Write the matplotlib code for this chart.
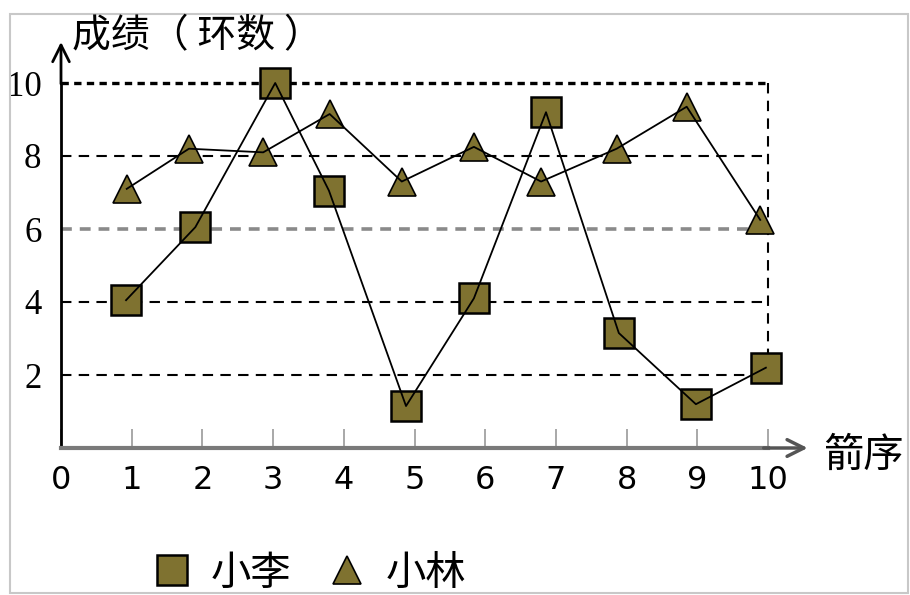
import matplotlib
matplotlib.use("Agg")
import matplotlib.pyplot as plt
from matplotlib.lines import Line2D
from matplotlib.patches import Rectangle

plt.rcParams['font.family'] = ['Noto Sans CJK SC', 'DejaVu Sans']

# shot positions and scores
li_x = [0.92, 1.90, 3.03, 3.79, 4.88, 5.84, 6.86, 7.89, 8.98, 9.97]
li_y = [4.05, 6.05, 10.0, 7.05, 1.15, 4.1, 9.2, 3.15, 1.2, 2.2]
lin_x = [0.93, 1.81, 2.86, 3.80, 4.82, 5.84, 6.79, 7.86, 8.85, 9.89]
lin_y = [7.1, 8.2, 8.1, 9.15, 7.3, 8.25, 7.3, 8.2, 9.35, 6.25]
xticks = list(range(0, 11))
yticks = [2, 4, 6, 8, 10]

olive = '#7f7230'

fig = plt.figure(figsize=(9.1, 5.95), dpi=100)
fig.patches.append(Rectangle((10 / 910, 2 / 595), 898 / 910, 579 / 595,
                             transform=fig.transFigure, fill=False,
                             edgecolor='#c8c8c8', lw=1.5))

ax = fig.add_axes([61 / 910, 147 / 595, 707 / 910, 365 / 595])
ax.set_xlim(0, 10)
ax.set_ylim(0, 10)

# reference lines
for v in yticks:
    if v == 10:
        ax.plot([0, 10], [v, v], color='black', lw=2.4, dashes=(2.2, 1.6),
                zorder=1, clip_on=False)
    elif v == 6:
        ax.plot([0, 10], [v, v], color='#8a8a8a', lw=2.6, dashes=(3, 2.2), zorder=1)
    else:
        ax.plot([0, 10], [v, v], color='black', lw=1.5, dashes=(5, 3.5), zorder=1)
ax.plot([10, 10], [10, 2.5], color='black', lw=1.5, dashes=(5, 3.5),
        zorder=1, clip_on=False)

# markers first, lines on top
ax.plot(li_x, li_y, ls='none', marker='s', ms=22, mfc=olive, mec='black',
        mew=1.8, zorder=3, clip_on=False)
ax.plot(lin_x, lin_y, ls='none', marker='^', ms=20, mfc=olive, mec='black',
        mew=1.2, zorder=3, clip_on=False)
ax.plot(li_x, li_y, color='black', lw=1.3, zorder=4, clip_on=False)
ax.plot(lin_x, lin_y, color='black', lw=1.3, zorder=4, clip_on=False)

for s in ['top', 'right']:
    ax.spines[s].set_visible(False)
ax.spines['left'].set_linewidth(2)
ax.spines['left'].set_color('black')
ax.spines['bottom'].set_linewidth(3)
ax.spines['bottom'].set_color('#7a7a7a')

ax.annotate('', xy=(10.6, 0), xytext=(9.9, 0), xycoords='data',
            arrowprops=dict(arrowstyle='->', color='#555555', lw=2.5,
                            mutation_scale=30), annotation_clip=False)
ax.annotate('', xy=(0, 11.2), xytext=(0, 9.9), xycoords='data',
            arrowprops=dict(arrowstyle='->', color='black', lw=2,
                            mutation_scale=30), annotation_clip=False)

ax.set_xticks(xticks)
ax.set_xticklabels([str(t) for t in xticks], family='DejaVu Sans', fontsize=23)
ax.tick_params(axis='x', direction='in', length=14, width=1.2, color='#999999', pad=12)
ax.set_yticks(yticks)
ax.set_yticklabels([str(t) for t in yticks], family='Liberation Serif', fontsize=25)
ax.tick_params(axis='y', direction='in', length=0, pad=14)

fig.text(72 / 910, 1 - 36 / 595, '成绩（ 环数 ）', fontsize=28, va='center', ha='left')
fig.text(823 / 910, 1 - 455 / 595, '箭序', fontsize=29, va='center', ha='left')

handles = [Line2D([], [], ls='none', marker='s', ms=22, mfc=olive, mec='black', mew=1.8),
           Line2D([], [], ls='none', marker='^', ms=20, mfc=olive, mec='black', mew=1.2)]
fig.legend(handles, ['小李', '小林'], loc='center left',
           bbox_to_anchor=(152 / 910, 1 - 573 / 595), ncol=2, frameon=False,
           fontsize=29, handlelength=1.0, handletextpad=0.45, columnspacing=0.9,
           borderpad=0, borderaxespad=0)

fig.savefig('out.png', dpi=100)
